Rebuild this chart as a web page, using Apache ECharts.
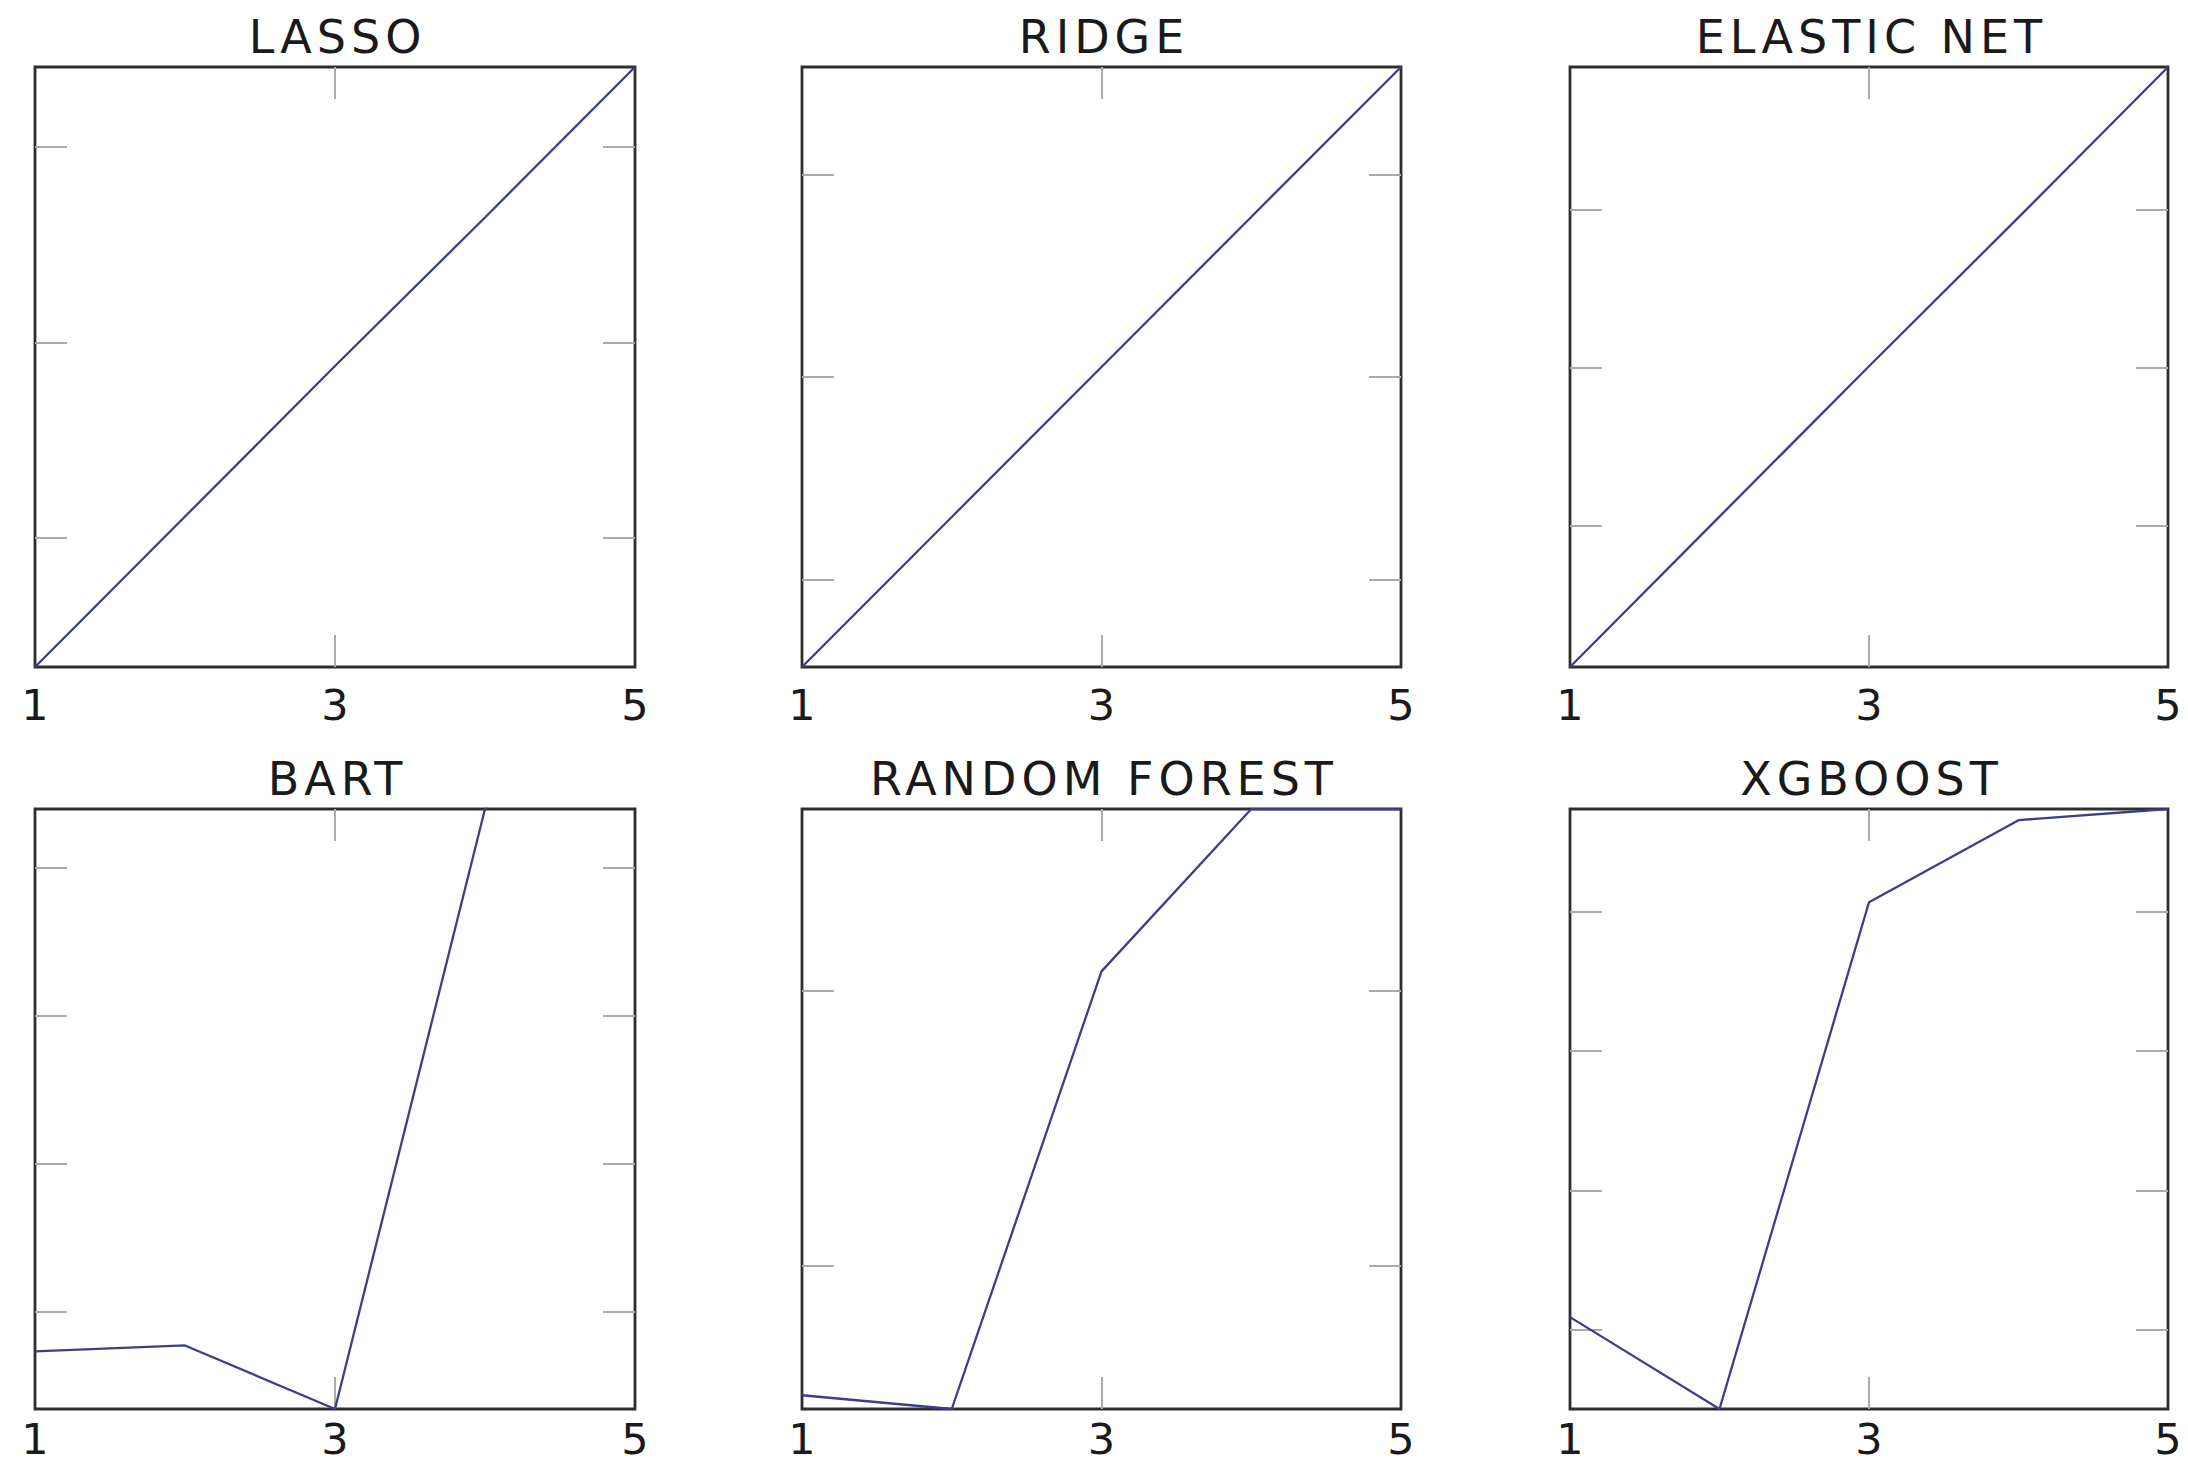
<!DOCTYPE html>
<html>
<head>
<meta charset="utf-8">
<title>Model comparison</title>
<script src="https://cdn.jsdelivr.net/npm/echarts@6/dist/echarts.min.js"></script>
<style>
  html, body { margin: 0; padding: 0; background: #fff; }
  #chart { width: 2188px; height: 1465px; }
  /* panel titles are set a bit spaced out in the original */
  #chart text[style*="46px"] { letter-spacing: 5px; }
</style>
</head>
<body>
<div id="chart"></div>
<script>
const titles = ['LASSO', 'RIDGE', 'ELASTIC NET', 'BART', 'RANDOM FOREST', 'XGBOOST'];
const xValues = [1, 2, 3, 4, 5];
const xTickValues = [1, 3, 5];

const lasso = [0.34, 1.11, 1.88, 2.64, 3.41];
const ridge = [0.57, 1.31, 2.05, 2.79, 3.53];
const elasticNet = [0.11, 1.06, 2.01, 2.95, 3.90];
const bart = [0.73, 0.77, 0.34, 4.40, 5.90];
const randomForest = [0.53, 0.48, 2.07, 2.66, 2.66];
const xgboost = [1.09, 0.43, 4.07, 4.66, 4.74];

// visible y window of each panel and where its (unlabelled) ticks sit
const yMins = [0.34, 0.57, 0.11, 0.34, 0.48, 0.43];
const yMaxs = [3.41, 3.53, 3.90, 4.40, 2.66, 4.74];
const yTickValues = [[1, 2, 3], [1, 2, 3], [1, 2, 3], [1, 2, 3, 4], [1, 2], [1, 2, 3, 4]];

const allSeries = [lasso, ridge, elasticNet, bart, randomForest, xgboost];

const colLefts = [35, 802, 1570];
const colWidths = [600, 599, 598];
const rowTops = [67, 809];
const labelMargins = [20, 12];
const panelHeight = 600;

const frameColor = '#2e2e2e';
const tickColor = '#aaa';
const lineColor = '#3d3d8a';
const textColor = '#1a1a1a';
const font = 'DejaVu Sans';

function tickStyle(values) {
  return {
    show: true,
    inside: true,
    length: 32,
    customValues: values,
    lineStyle: { color: tickColor, width: 2 }
  };
}

const option = {
  animation: false,
  backgroundColor: '#fff',
  title: [],
  grid: [],
  xAxis: [],
  yAxis: [],
  series: []
};

allSeries.forEach((values, i) => {
  const col = i % 3, row = Math.floor(i / 3);
  const left = colLefts[col], width = colWidths[col], top = rowTops[row];
  const xMin = xValues[0], xMax = xValues[xValues.length - 1];
  const innerX = xTickValues.filter((v) => v > xMin && v < xMax);

  option.grid.push({
    left: left, top: top, width: width, height: panelHeight,
    show: true, borderColor: frameColor, borderWidth: 2.8,
    backgroundColor: 'transparent',
    containLabel: false, outerBoundsMode: 'none'
  });

  option.title.push({
    text: titles[i],
    left: left + width / 2 + 2.5,
    top: top - 53,
    textAlign: 'center',
    padding: 0,
    textStyle: { fontFamily: font, fontSize: 46, fontWeight: 'normal', color: textColor }
  });

  ['bottom', 'top'].forEach((pos) => {
    option.xAxis.push({
      gridIndex: i, type: 'value', position: pos,
      min: xMin, max: xMax,
      axisLine: { show: false },
      splitLine: { show: false },
      axisTick: tickStyle(innerX),
      axisLabel: {
        show: pos === 'bottom',
        customValues: xTickValues,
        margin: labelMargins[row],
        lineHeight: 36,
        fontFamily: font, fontSize: 43, color: textColor
      }
    });
  });

  ['left', 'right'].forEach((pos) => {
    option.yAxis.push({
      gridIndex: i, type: 'value', position: pos,
      min: yMins[i], max: yMaxs[i],
      axisLine: { show: false },
      splitLine: { show: false },
      axisTick: tickStyle(yTickValues[i]),
      axisLabel: { show: false }
    });
  });

  option.series.push({
    type: 'line',
    xAxisIndex: i * 2,
    yAxisIndex: i * 2,
    data: xValues.map((x, k) => [x, values[k]]),
    showSymbol: false,
    symbol: 'none',
    clip: true,
    z: 5,
    lineStyle: { color: lineColor, width: 2.3 }
  });
});

const chart = echarts.init(document.getElementById('chart'), null, { renderer: 'svg' });
chart.setOption(option);
</script>
</body>
</html>
